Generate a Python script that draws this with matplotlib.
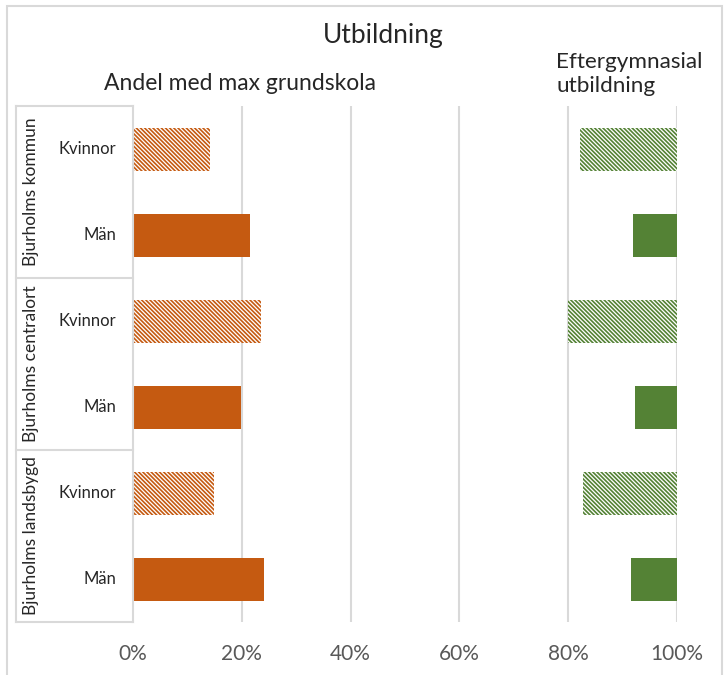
import matplotlib
matplotlib.use("Agg")
import matplotlib.pyplot as plt
from matplotlib.patches import Rectangle
from matplotlib.lines import Line2D

plt.rcParams['font.family'] = ['Lato', 'DejaVu Sans']
plt.rcParams['hatch.linewidth'] = 1.2

groups = ["Bjurholms kommun", "Bjurholms centralort", "Bjurholms landsbygd"]
sexes = ["Kvinnor", "Män"]
max_grundskola = [0.142, 0.215, 0.235, 0.199, 0.149, 0.240]
eftergymnasial = [0.179, 0.080, 0.200, 0.078, 0.172, 0.084]
hatched = [True, False, True, False, True, False]
tick_vals = [0, 0.2, 0.4, 0.6, 0.8, 1.0]
tick_labels = ["0%", "20%", "40%", "60%", "80%", "100%"]

ORANGE = "#C55A11"
GREEN = "#548235"
GRID = "#D9D9D9"
HATCH = "\\" * 8

W, H = 728, 675
fig = plt.figure(figsize=(W / 100, H / 100), dpi=100)
ax = fig.add_axes([133 / W, 1 - 622 / H, (677 - 133) / W, (622 - 106) / H])

ypos = list(range(len(max_grundskola)))
for y, v, e, h in zip(ypos, max_grundskola, eftergymnasial, hatched):
    if h:
        ax.barh(y, v, height=0.5, color="white", edgecolor=ORANGE, hatch=HATCH, linewidth=0)
        ax.barh(y, e, left=1 - e, height=0.5, color="white", edgecolor=GREEN, hatch=HATCH, linewidth=0)
    else:
        ax.barh(y, v, height=0.5, color=ORANGE, linewidth=0)
        ax.barh(y, e, left=1 - e, height=0.5, color=GREEN, linewidth=0)

ax.set_xlim(0, 1.0)
ax.set_ylim(5.5, -0.5)
ax.set_yticks([])
ax.set_xticks(tick_vals)
ax.set_xticklabels(tick_labels, fontsize=15, color="#595959")
ax.tick_params(axis="x", length=0, pad=16)
for s in ax.spines.values():
    s.set_visible(False)
ax.set_axisbelow(True)
for t in tick_vals[1:]:
    ax.axvline(t, color=GRID, lw=1.5, zorder=0)

# category table
tr = ax.get_yaxis_transform()
xl = (16 - 133) / (677 - 133)
for yb in [-0.5, 1.5, 3.5, 5.5]:
    ax.add_line(Line2D([xl, 0], [yb, yb], transform=tr, color=GRID, lw=1.5, clip_on=False))
ax.add_line(Line2D([xl, xl], [-0.5, 5.5], transform=tr, color=GRID, lw=1.5, clip_on=False))
ax.add_line(Line2D([0, 0], [-0.5, 5.5], transform=tr, color=GRID, lw=1.5, clip_on=False))

xlab = (116 - 133) / (677 - 133)
for i, y in enumerate(ypos):
    ax.text(xlab, y, sexes[i % 2], transform=tr, ha="right", va="center",
            fontsize=12, color="#262626")
xg = (31 - 133) / (677 - 133)
for gi, g in enumerate(groups):
    ax.text(xg, 2 * gi + 0.5, g, transform=tr, rotation=90, ha="center", va="center",
            fontsize=12.5, color="#262626")

# titles
fig.text(383 / W, 1 - 35 / H, "Utbildning", ha="center", va="center", fontsize=19, color="#262626")
fig.text(240 / W, 1 - 83 / H, "Andel med max grundskola", ha="center", va="center", fontsize=16.5, color="#262626")
fig.text(556 / W, 1 - 74 / H, "Eftergymnasial\nutbildning", ha="left", va="center", fontsize=16.2,
         color="#262626", linespacing=1.3)

# outer frame
fig.add_artist(Rectangle((7 / W, -0.01), (722 - 7) / W, 1 - 6 / H + 0.01, transform=fig.transFigure,
                         fill=False, edgecolor=GRID, lw=1.5))

fig.savefig("out.png", dpi=100)
